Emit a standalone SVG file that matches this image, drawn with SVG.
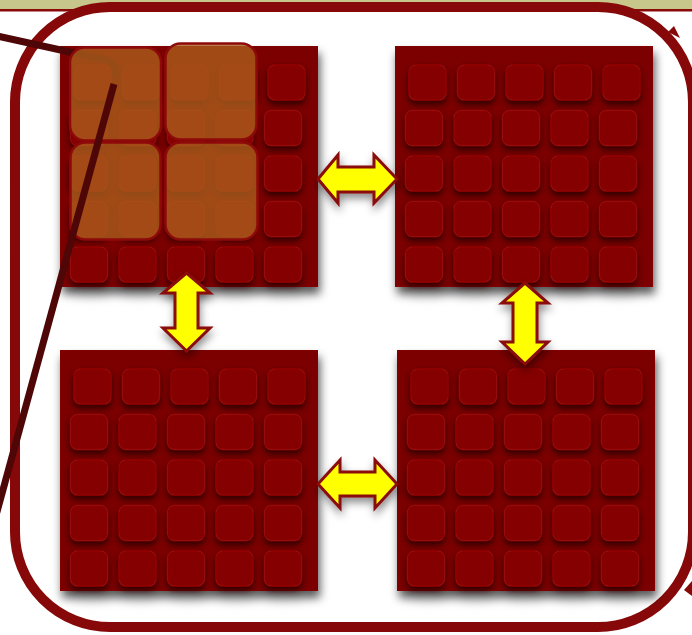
<svg xmlns="http://www.w3.org/2000/svg" width="692" height="635" viewBox="0 0 692 635">
<defs>
<style>
.tile{fill:#850000;stroke:#930808;stroke-width:1.5}
.arrow{fill:#ffff00;stroke:#8a0a0a;stroke-width:3;stroke-linejoin:miter}
.ov{fill:#aa5c1c;fill-opacity:0.8;stroke:#8e0a0a;stroke-width:2.5}
.wire{fill:none;stroke:#4e0606;stroke-width:7;stroke-linecap:butt}
.frame{fill:none;stroke:#860808;stroke-width:10}
</style>
<filter id="gshadow" x="-10%" y="-10%" width="125%" height="130%">
<feDropShadow dx="2" dy="7" stdDeviation="5" flood-color="#000" flood-opacity="0.65"/>
</filter>
<filter id="tshadow" x="-10%" y="-10%" width="120%" height="125%">
<feDropShadow dx="0" dy="4" stdDeviation="3" flood-color="#250000" flood-opacity="0.9"/>
</filter>
<filter id="noise" x="0" y="0" width="100%" height="100%">
<feTurbulence type="fractalNoise" baseFrequency="0.9" numOctaves="2" seed="3" result="n"/>
<feColorMatrix in="n" type="matrix" values="0 0 0 0 0.2  0 0 0 0 0  0 0 0 0 0  0.9 0 0 0 -0.35" result="d"/>
<feComposite in="d" in2="SourceGraphic" operator="in" result="d2"/>
<feMerge><feMergeNode in="SourceGraphic"/><feMergeNode in="d2"/></feMerge>
</filter>
<filter id="ashadow" x="-30%" y="-30%" width="160%" height="170%">
<feDropShadow dx="1" dy="5" stdDeviation="4" flood-color="#000" flood-opacity="0.45"/>
</filter>
<g id="grid">
<rect width="258" height="241" fill="#7c0000" stroke="#8c0505" stroke-width="1" filter="url(#noise)"/>
<g filter="url(#tshadow)">
<rect class="tile" x="14" y="19" width="37" height="35" rx="7"/>
<rect class="tile" x="62.5" y="19" width="37" height="35" rx="7"/>
<rect class="tile" x="111" y="19" width="37" height="35" rx="7"/>
<rect class="tile" x="159.5" y="19" width="37" height="35" rx="7"/>
<rect class="tile" x="208" y="19" width="37" height="35" rx="7"/>
<rect class="tile" x="10.5" y="64.5" width="37" height="35" rx="7"/>
<rect class="tile" x="59" y="64.5" width="37" height="35" rx="7"/>
<rect class="tile" x="107.5" y="64.5" width="37" height="35" rx="7"/>
<rect class="tile" x="156" y="64.5" width="37" height="35" rx="7"/>
<rect class="tile" x="204.5" y="64.5" width="37" height="35" rx="7"/>
<rect class="tile" x="10.5" y="110" width="37" height="35" rx="7"/>
<rect class="tile" x="59" y="110" width="37" height="35" rx="7"/>
<rect class="tile" x="107.5" y="110" width="37" height="35" rx="7"/>
<rect class="tile" x="156" y="110" width="37" height="35" rx="7"/>
<rect class="tile" x="204.5" y="110" width="37" height="35" rx="7"/>
<rect class="tile" x="10.5" y="155.5" width="37" height="35" rx="7"/>
<rect class="tile" x="59" y="155.5" width="37" height="35" rx="7"/>
<rect class="tile" x="107.5" y="155.5" width="37" height="35" rx="7"/>
<rect class="tile" x="156" y="155.5" width="37" height="35" rx="7"/>
<rect class="tile" x="204.5" y="155.5" width="37" height="35" rx="7"/>
<rect class="tile" x="10.5" y="201" width="37" height="35" rx="7"/>
<rect class="tile" x="59" y="201" width="37" height="35" rx="7"/>
<rect class="tile" x="107.5" y="201" width="37" height="35" rx="7"/>
<rect class="tile" x="156" y="201" width="37" height="35" rx="7"/>
<rect class="tile" x="204.5" y="201" width="37" height="35" rx="7"/>
</g>
</g>
</defs>

<rect width="692" height="635" fill="#ffffff"/>
<rect x="0" y="0" width="692" height="9" fill="#c8c78b"/>
<rect x="0" y="9" width="692" height="2.5" fill="#8a0a0a"/>

<g id="frame">
<rect class="frame" x="15" y="7" width="678" height="620" rx="95"/>
<polygon points="668,32 674,26 680,38" fill="#860808"/>
<polygon points="684,590 692,581 692,596" fill="#860808"/>
</g>

<g id="grid-tl" filter="url(#gshadow)"><use href="#grid" transform="translate(60,46)"/></g>
<g id="grid-tr" filter="url(#gshadow)"><use href="#grid" transform="translate(395,46)"/></g>
<g id="grid-bl" filter="url(#gshadow)"><use href="#grid" transform="translate(60,350)"/></g>
<g id="grid-br" filter="url(#gshadow)"><use href="#grid" transform="translate(397,350)"/></g>

<path class="wire" d="M-3,36 L106,60 Q118,63 116,78"/>

<g id="overlay">
<rect class="ov" x="70" y="47.5" width="91" height="93" rx="15"/>
<rect class="ov" x="165.5" y="43.5" width="91" height="96" rx="15"/>
<rect class="ov" x="70.5" y="142.5" width="90" height="97" rx="15"/>
<rect class="ov" x="165.5" y="142.5" width="92" height="97" rx="15"/>
</g>

<path class="wire" d="M114,84 L-8,530"/>

<g id="connectors" filter="url(#ashadow)">
<path class="arrow" d="M318,179 L338,155 L338,167 L374,167 L374,155 L397,179 L374,203 L374,192 L338,192 L338,203 Z"/>
<path class="arrow" d="M318,484 L340,460 L340,472 L375,472 L375,460 L397,484 L375,508 L375,496 L340,496 L340,508 Z"/>
<path class="arrow" d="M186.5,273 L210,293 L198,293 L198,328 L210,328 L186.5,351 L163,328 L175,328 L175,293 L163,293 Z"/>
<path class="arrow" d="M525,283 L548,303 L537,303 L537,342 L548,342 L525,364 L502,342 L513,342 L513,303 L502,303 Z"/>
</g>
</svg>
